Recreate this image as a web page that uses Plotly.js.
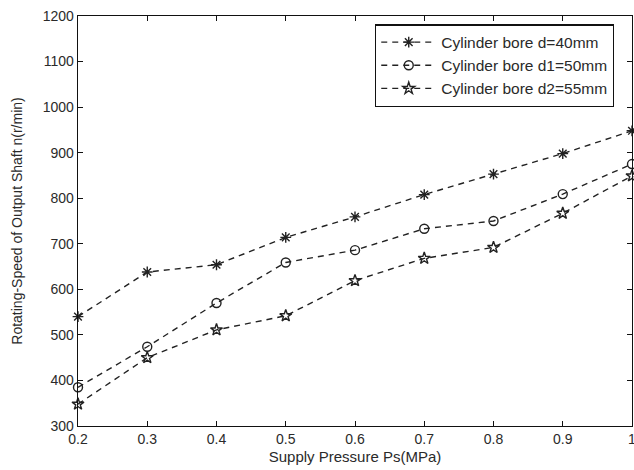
<!DOCTYPE html>
<html>
<head>
<meta charset="utf-8">
<script src="https://cdn.plot.ly/plotly-3.0.1.min.js"></script>
<style>
html,body{margin:0;padding:0;background:#fff;}
#chart{width:634px;height:470px;}
</style>
</head>
<body>
<div id="chart"></div>
<script>
const pressure = [0.2, 0.3, 0.4, 0.5, 0.6, 0.7, 0.8, 0.9, 1.0];
const speedD40 = [540, 638, 654, 714, 759, 808, 853, 898, 948];
const speedD50 = [385, 474, 570, 659, 686, 733, 750, 809, 875];
const speedD55 = [348, 450, 511, 542, 619, 668, 692, 767, 849];
const seriesNames = ['Cylinder bore d=40mm', 'Cylinder bore d1=50mm', 'Cylinder bore d2=55mm'];
const xTickVals = [0.2, 0.3, 0.4, 0.5, 0.6, 0.7, 0.8, 0.9, 1.0];
const xTickText = ['0.2', '0.3', '0.4', '0.5', '0.6', '0.7', '0.8', '0.9', '1'];
const yTickVals = [300, 400, 500, 600, 700, 800, 900, 1000, 1100, 1200];

const FONT = 'Liberation Sans, Arial, Helvetica, sans-serif';
const symbols = ['asterisk-open', 'circle-open', 'star-open'];
const allSpeeds = [speedD40, speedD50, speedD55];

const traces = allSpeeds.map((ys, i) => ({
  x: pressure,
  y: ys,
  name: seriesNames[i],
  type: 'scatter',
  mode: 'lines+markers',
  line: {color: '#222', width: 1.4, dash: '6px,5px'},
  marker: {symbol: symbols[i], size: 9, color: '#222', line: {color: '#222', width: 1.4}},
  cliponaxis: false
}));

const layout = {
  width: 634, height: 470,
  margin: {l: 78, r: 2, t: 16, b: 44},
  paper_bgcolor: '#fff', plot_bgcolor: '#fff',
  font: {family: FONT, color: '#2a2a2a'},
  showlegend: true,
  legend: {
    x: 0.536, y: 0.98, xanchor: 'left', yanchor: 'top',
    bgcolor: '#fff', bordercolor: '#111', borderwidth: 1.3,
    font: {family: FONT, size: 15.5, color: '#2a2a2a'},
    itemwidth: 55, tracegroupgap: 0
  },
  xaxis: {
    range: [0.2, 1.0], tickvals: xTickVals, ticktext: xTickText,
    showgrid: false, zeroline: false,
    showline: true, linecolor: '#111', linewidth: 1.3, mirror: 'ticks',
    ticks: 'inside', ticklen: 5, tickcolor: '#111',
    ticklabeloverflow: 'allow',
    tickfont: {family: FONT, size: 14, color: '#2a2a2a'},
    title: {text: 'Supply Pressure Ps(MPa)', font: {family: FONT, size: 15, color: '#2a2a2a'}, standoff: 5}
  },
  yaxis: {
    range: [300, 1200], tickvals: yTickVals,
    showgrid: false, zeroline: false,
    showline: true, linecolor: '#111', linewidth: 1.3, mirror: 'ticks',
    ticks: 'inside', ticklen: 5, tickcolor: '#111',
    tickfont: {family: FONT, size: 14, color: '#2a2a2a'},
    title: {text: 'Rotating-Speed of Output Shaft n(r/min)', font: {family: FONT, size: 14, color: '#2a2a2a'}, standoff: 16}
  }
};

Plotly.newPlot('chart', traces, layout, {displayModeBar: false, staticPlot: true});
</script>
</body>
</html>
